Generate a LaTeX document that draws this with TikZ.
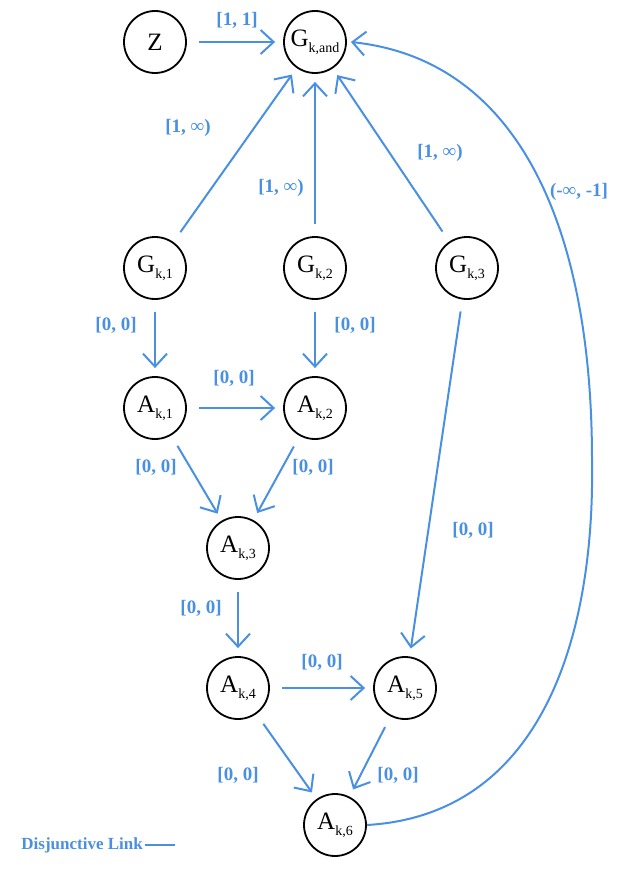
\documentclass[tikz,border=0pt]{standalone}
\usepackage{fontspec}
\setmainfont{Liberation Serif}
\usetikzlibrary{arrows.meta}
\definecolor{linkblue}{RGB}{74,144,226}
\tikzset{
  state/.style={circle, draw=black, line width=1.8pt, minimum size=62pt, inner sep=0pt, font=\fontsize{25}{25}\selectfont},
  tip/.style={-{Straight Barb[length=13pt,width=24pt,line width=2pt]}},
  link/.style={draw=linkblue, line width=2pt, tip, shorten <=12pt, shorten >=8pt},
  lab/.style={text=linkblue, font=\bfseries\fontsize{19}{19}\selectfont, inner sep=0pt}
}
\newcommand{\sub}[1]{\raisebox{-6pt}{\fontsize{14}{14}\selectfont #1}}
\begin{document}
\begin{tikzpicture}[x=1pt,y=-1pt]
\useasboundingbox (0,0) rectangle (625,875);
% nodes
\node[state] (Z) at (155,42) {Z};
\node[state] (Gand) at (315,42) {G\sub{k,and}};
\node[state] (G1) at (155,268) {G\sub{k,1}};
\node[state] (G2) at (315,268) {G\sub{k,2}};
\node[state] (G3) at (467,268) {G\sub{k,3}};
\node[state] (A1) at (155,408) {A\sub{k,1}};
\node[state] (A2) at (315,408) {A\sub{k,2}};
\node[state] (A3) at (238,548) {A\sub{k,3}};
\node[state] (A4) at (238,688) {A\sub{k,4}};
\node[state] (A5) at (405,688) {A\sub{k,5}};
\node[state] (A6) at (335,825) {A\sub{k,6}};
% edges
\draw[link] (Z) -- (Gand);
\draw[link] (G1) -- (Gand);
\draw[link] (G2) -- (Gand);
\draw[link] (G3) -- (Gand);
\draw[link] (G1) -- (A1);
\draw[link] (G2) -- (A2);
\draw[link] (G3) -- (A5);
\draw[link] (A1) -- (A2);
\draw[link] (A1) -- (A3);
\draw[link] (A2) -- (A3);
\draw[link] (A3) -- (A4);
\draw[link] (A4) -- (A5);
\draw[link] (A4) -- (A6);
\draw[link] (A5) -- (A6);
\coordinate (far) at (592,460);
\draw[draw=linkblue, line width=2pt, tip]
  (A6.east) .. controls (540,815) and (595,640) .. (far)
  .. controls (592,230) and (520,60) .. ([xshift=4pt]Gand.east);
% labels
\node[lab] (l1) at (237,20) {[1, 1]};
\node[lab] (l2) at (188,128) {[1, ∞)};
\node[lab] (l3) at (281,188) {[1, ∞)};
\node[lab] (l4) at (440,153) {[1, ∞)};
\node[lab] (l5) at (579,192) {(-∞, -1]};
\node[lab] (l6) at (116,325) {[0, 0]};
\node[lab] (l7) at (355,325) {[0, 0]};
\node[lab] (l8) at (234,378) {[0, 0]};
\node[lab] (l9) at (156,467) {[0, 0]};
\node[lab] (l10) at (313,467) {[0, 0]};
\node[lab] (l11) at (473,530) {[0, 0]};
\node[lab] (l12) at (201,608) {[0, 0]};
\node[lab] (l13) at (322,662) {[0, 0]};
\node[lab] (l14) at (238,775) {[0, 0]};
\node[lab] (l15) at (398,775) {[0, 0]};
\node[lab, font=\bfseries\fontsize{17}{17}\selectfont, anchor=east] (leg) at (143,845) {Disjunctive Link};
\coordinate (legend end) at (175,845);
\draw[draw=linkblue, line width=2pt] (leg.east) ++(2pt,0) -- (legend end);
\end{tikzpicture}
\end{document}
